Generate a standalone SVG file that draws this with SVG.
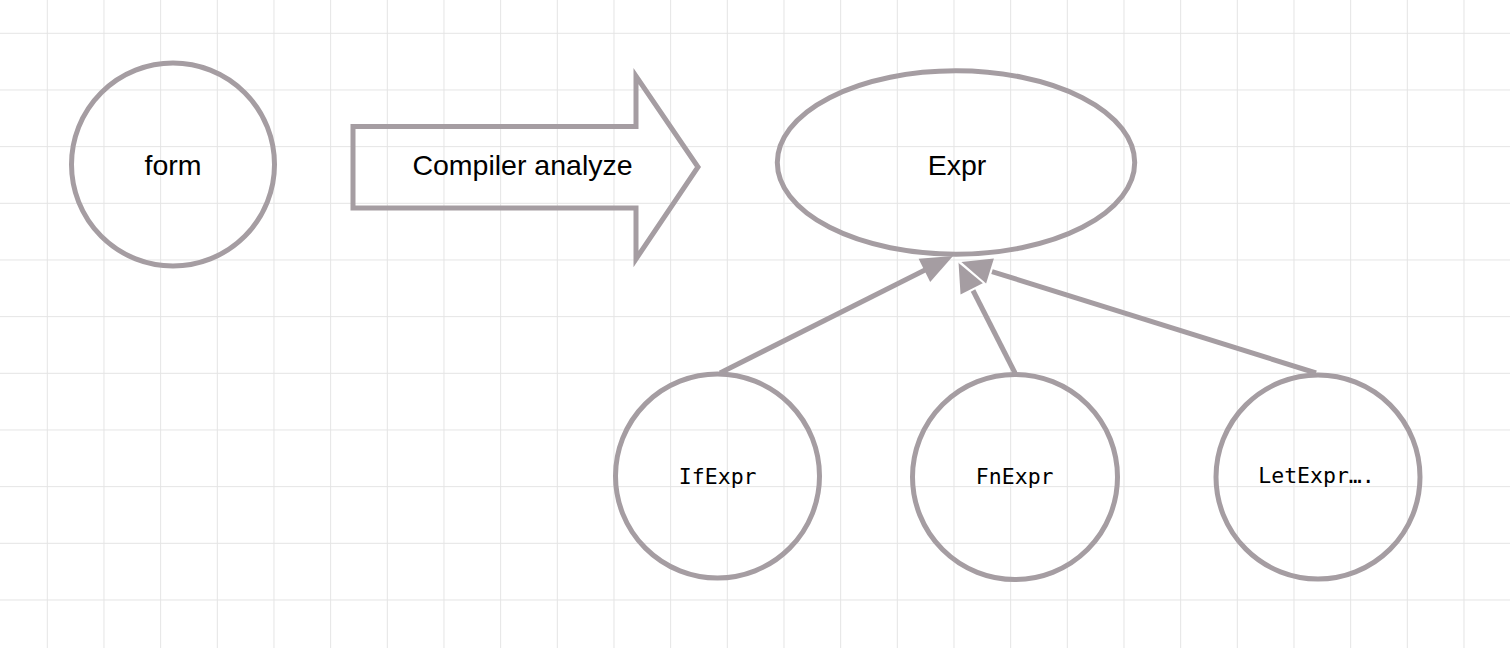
<svg xmlns="http://www.w3.org/2000/svg" width="1510" height="648" viewBox="0 0 1510 648">
<style>
.shape{fill:none;stroke:#a59da2;stroke-width:5}
.conn{stroke:#a59da2;stroke-width:5;fill:none}
.head{fill:#a59da2;stroke:none}
.sans{font-family:"Liberation Sans",Arial,sans-serif;font-size:28.5px;fill:#000;text-anchor:middle}
.mono{font-family:"DejaVu Sans Mono","Liberation Mono",monospace;font-size:21.5px;fill:#000;text-anchor:middle}
</style>
<defs>
<pattern id="grid" patternUnits="userSpaceOnUse" x="46.8" y="32.8" width="56.667" height="56.667">
<path d="M0,0.5 H56.667 M0.5,0 V56.667" stroke="#e4e4e4" stroke-width="1" fill="none"/>
</pattern>
</defs>
<rect width="1510" height="648" fill="#ffffff"/>
<rect width="1510" height="648" fill="url(#grid)"/>

<g id="form">
<circle class="shape" cx="173" cy="164.5" r="101.5"/>
<text class="sans" x="173" y="175">form</text>
</g>

<g id="compiler-analyze">
<polygon class="shape" points="353,126.5 636,126.5 636,76 698,167 636,259 636,208 353,208" stroke-linejoin="miter"/>
<text class="sans" x="522.5" y="175">Compiler analyze</text>
</g>

<g id="expr">
<ellipse class="shape" cx="956" cy="162.5" rx="178.7" ry="91.7"/>
<text class="sans" x="957" y="175">Expr</text>
</g>

<g id="ifexpr">
<circle class="shape" cx="717.5" cy="476" r="102"/>
<text class="mono" x="717.7" y="484">IfExpr</text>
</g>

<g id="fnexpr">
<circle class="shape" cx="1015" cy="477" r="102.5"/>
<text class="mono" x="1014.7" y="484">FnExpr</text>
</g>

<g id="letexpr">
<circle class="shape" cx="1318" cy="477" r="102"/>
<text class="mono" x="1316.5" y="483">LetExpr….</text>
</g>

<g id="connectors">
<line class="conn" x1="1316" y1="373" x2="992" y2="271.6"/>
<polygon class="head" points="961.4,262 993.9,258.6 986.1,283.4"/>
<line class="conn" x1="1015" y1="373" x2="973" y2="290.5"/>
<polygon class="head" points="958.5,262 983.7,282.8 960.5,294.6"/>
<line x1="958.5" y1="262" x2="983.7" y2="282.8" stroke="#ffffff" stroke-width="1.5"/>
<line class="conn" x1="720" y1="373" x2="926" y2="269.6"/>
<polygon class="head" points="953,256 930.2,282 918.6,258.8"/>
</g>
</svg>
